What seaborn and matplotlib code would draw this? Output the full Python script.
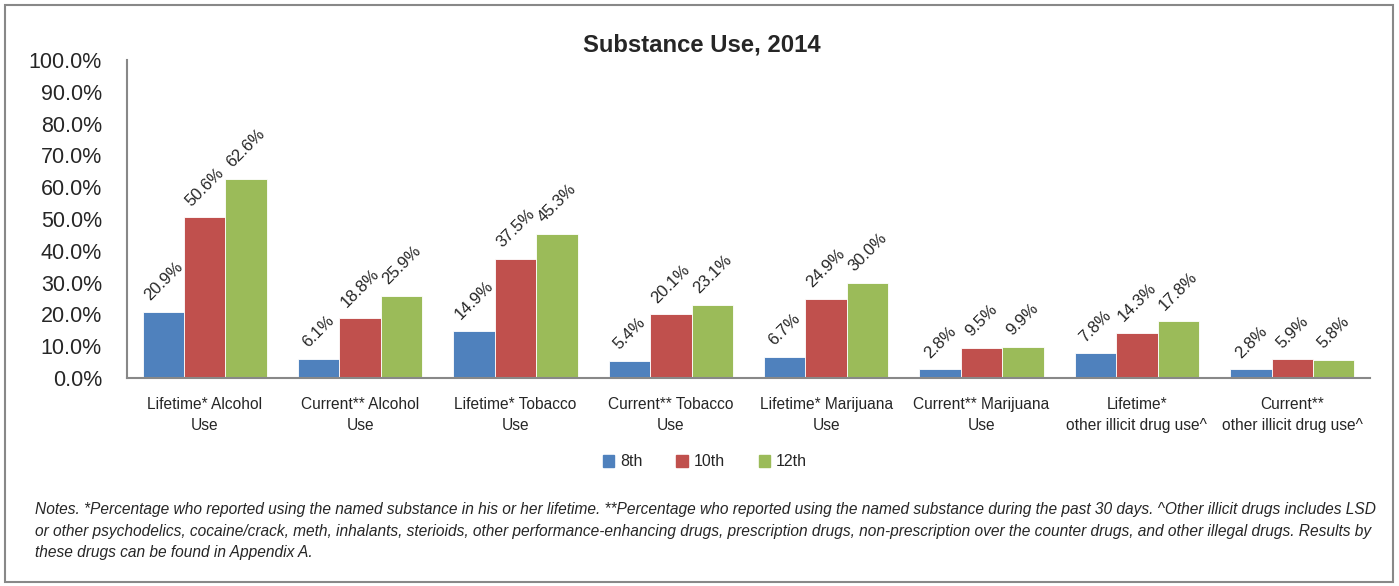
import pandas as pd
import seaborn as sns
import matplotlib.pyplot as plt
from matplotlib.ticker import PercentFormatter
from matplotlib.patches import Rectangle

# Data
categories = ['Lifetime* Alcohol\nUse', 'Current** Alcohol\nUse', 'Lifetime* Tobacco\nUse',
              'Current** Tobacco\nUse', 'Lifetime* Marijuana\nUse', 'Current** Marijuana\nUse',
              'Lifetime*\nother illicit drug use^', 'Current**\nother illicit drug use^']
grades = ['8th', '10th', '12th']
grade_8 = [20.9, 6.1, 14.9, 5.4, 6.7, 2.8, 7.8, 2.8]
grade_10 = [50.6, 18.8, 37.5, 20.1, 24.9, 9.5, 14.3, 5.9]
grade_12 = [62.6, 25.9, 45.3, 23.1, 30.0, 9.9, 17.8, 5.8]

notes = ("Notes. *Percentage who reported using the named substance in his or her lifetime. "
         "**Percentage who reported using the named substance during the past 30 days. "
         "^Other illicit drugs includes LSD\n"
         "or other psychodelics, cocaine/crack, meth, inhalants, sterioids, other performance-enhancing "
         "drugs, prescription drugs, non-prescription over the counter drugs, and other illegal drugs. "
         "Results by\nthese drugs can be found in Appendix A.")

df = pd.DataFrame({'Category': categories * 3,
                   'Grade': [g for g in grades for _ in categories],
                   'Pct': grade_8 + grade_10 + grade_12})

palette = ['#4F81BD', '#C0504D', '#9BBB59']

sns.set_style('white')
plt.rcParams['font.family'] = ['Liberation Sans', 'DejaVu Sans']

fig = plt.figure(figsize=(13.99, 5.86), dpi=100)
ax = fig.add_axes([127 / 1399, 1 - 378 / 586, (1370 - 127) / 1399, (378 - 60) / 586])
sns.barplot(data=df, x='Category', y='Pct', hue='Grade', palette=palette, width=0.8,
            saturation=1, edgecolor='white', linewidth=0.6, ax=ax, legend=False)

for container in ax.containers:
    for bar in container:
        h = bar.get_height()
        ax.annotate(f'{h:.1f}%', (bar.get_x() + bar.get_width() / 2, h),
                    xytext=(0, 6), textcoords='offset points', rotation=45,
                    ha='center', va='bottom', fontsize=12)

ax.set_ylim(0, 100)
ax.set_xlim(-0.5, len(categories) - 0.5)
ax.set_yticks(range(0, 101, 10))
ax.yaxis.set_major_formatter(PercentFormatter(decimals=1))
ax.tick_params(axis='y', labelsize=15.5, length=0, pad=18)
ax.tick_params(axis='x', labelsize=11.2, length=0, pad=14)
for lbl in ax.get_xticklabels():
    lbl.set_linespacing(1.45)
ax.set_xlabel('')
ax.set_ylabel('')
for s in ['top', 'right']:
    ax.spines[s].set_visible(False)
for s in ['left', 'bottom']:
    ax.spines[s].set_color('#888888')
    ax.spines[s].set_linewidth(1.5)

fig.text(702 / 1399, 1 - 45 / 586, 'Substance Use, 2014', ha='center', va='center',
         fontsize=17.2, fontweight='bold')

handles = [Rectangle((0, 0), 1, 1, color=c) for c in palette]
fig.legend(handles, grades, loc='center', bbox_to_anchor=(705 / 1399, 1 - 462 / 586),
           ncol=3, frameon=False, fontsize=11.5, handlelength=0.7, handleheight=0.7,
           handletextpad=0.4, columnspacing=2.1)

fig.text(35 / 1399, 1 - 502 / 586, notes, ha='left', va='top', fontsize=11.2,
         style='italic', linespacing=1.55)

fig.patches.append(Rectangle((5 / 1399, 4 / 586), 1388 / 1399, 577 / 586,
                             transform=fig.transFigure, fill=False,
                             edgecolor='#888888', linewidth=1.5))

plt.savefig('out.png', dpi=100)
